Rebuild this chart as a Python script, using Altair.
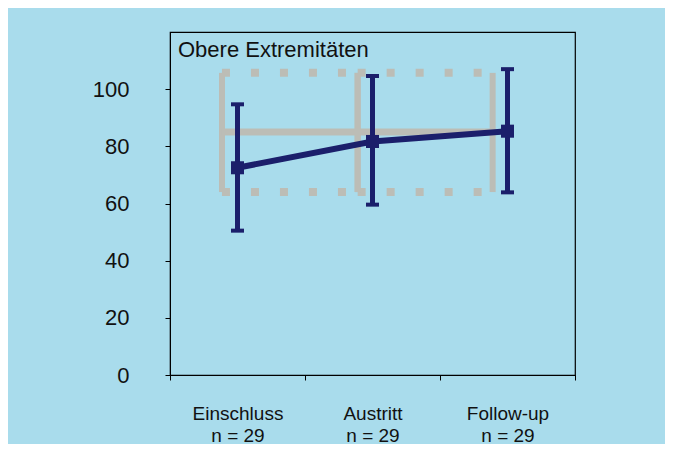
import altair as alt
import pandas as pd

# ---- data ----
categories = ["Einschluss", "Austritt", "Follow-up"]
n_labels = ["n = 29", "n = 29", "n = 29"]
positions = [0.5, 1.5, 2.5]
means = [72.5, 81.7, 85.3]
lower = [50.5, 59.6, 63.9]
upper = [94.7, 104.6, 107.0]

# faint grey outline boxes visible behind the series
box_left = [0.385, 1.39]
box_right = [1.39, 2.39]
box_bottom = [64.0, 64.0]
box_top = [105.7, 105.7]
band_value = 85.0

title_text = "Obere Extremitäten"

navy = "#1b1f6b"
grey = "#bcbdb6"
bg = "#a9dcec"
font = "Liberation Sans"

df = pd.DataFrame({"cat": categories, "pos": positions, "mean": means,
                   "lo": lower, "hi": upper})
boxes = pd.DataFrame({"x1": box_left, "x2": box_right, "yb": box_bottom, "yt": box_top})
band = pd.DataFrame({"x1": [min(box_left)], "x2": [max(box_right)], "y": [band_value]})
side = pd.DataFrame({"x": box_left + box_right, "yb": box_bottom * 2, "yt": box_top * 2})

label_expr = " : ".join(
    f"datum.value == {p} ? ['{c}', '{n}']" for p, c, n in zip(positions, categories, n_labels)
) + " : ''"

x_scale = alt.Scale(domain=[0, 3], nice=False, zero=False)
y_scale = alt.Scale(domain=[0, 120], nice=False)

x_axis = alt.Axis(
    values=[0, 0.5, 1, 1.5, 2, 2.5, 3], labelExpr=label_expr, title=None,
    grid=False, tickSize=5, tickColor="black", domainColor="black",
    tickOpacity={"condition": {"test": "datum.value % 1 != 0", "value": 0}, "value": 1},
    labelFont=font, labelFontSize=19, labelColor="#111111", labelPadding=24,
    labelLineHeight=22, labelAlign="center", labelFlush=False, labelOverlap=False,
)
y_axis = alt.Axis(
    values=[0, 20, 40, 60, 80, 100], title=None, grid=False, tickSize=5,
    tickColor="black", domainColor="black", labelFont=font, labelFontSize=22,
    labelColor="#111111", labelPadding=36,
)

X = alt.X("pos:Q", scale=x_scale, axis=x_axis)

base = alt.Chart(df)

# grey dotted top / bottom edges of the boxes
box_top_rule = alt.Chart(boxes).mark_rule(
    color=grey, strokeWidth=8, strokeDash=[8, 21], strokeCap="butt"
).encode(x=alt.X("x1:Q", scale=x_scale, axis=x_axis), x2="x2:Q",
         y=alt.Y("yt:Q", scale=y_scale, axis=y_axis))
box_bot_rule = alt.Chart(boxes).mark_rule(
    color=grey, strokeWidth=8, strokeDash=[8, 21], strokeCap="butt"
).encode(x=alt.X("x1:Q", scale=x_scale), x2="x2:Q", y=alt.Y("yb:Q", scale=y_scale))
box_side = alt.Chart(side).mark_rule(color=grey, strokeWidth=6).encode(
    x=alt.X("x:Q", scale=x_scale), y=alt.Y("yb:Q", scale=y_scale), y2="yt:Q")
band_rule = alt.Chart(band).mark_rule(color=grey, strokeWidth=7).encode(
    x=alt.X("x1:Q", scale=x_scale), x2="x2:Q", y=alt.Y("y:Q", scale=y_scale))

line = base.mark_line(color=navy, strokeWidth=6).encode(
    x=X, y=alt.Y("mean:Q", scale=y_scale, axis=y_axis))
err = base.mark_rule(color=navy, strokeWidth=5).encode(
    x=alt.X("pos:Q", scale=x_scale), y=alt.Y("lo:Q", scale=y_scale), y2="hi:Q")
cap_hi = base.mark_tick(color=navy, orient="horizontal", size=13, thickness=4, opacity=1).encode(
    x=alt.X("pos:Q", scale=x_scale), y=alt.Y("hi:Q", scale=y_scale))
cap_lo = base.mark_tick(color=navy, orient="horizontal", size=13, thickness=4, opacity=1).encode(
    x=alt.X("pos:Q", scale=x_scale), y=alt.Y("lo:Q", scale=y_scale))
pts = base.mark_square(color=navy, size=170, opacity=1).encode(
    x=alt.X("pos:Q", scale=x_scale), y=alt.Y("mean:Q", scale=y_scale))

title = alt.Chart(pd.DataFrame({"t": [title_text]})).mark_text(
    font=font, fontSize=22, color="#111111", align="left", baseline="alphabetic"
).encode(x=alt.value(8), y=alt.value(25), text="t:N")

chart = alt.layer(
    box_top_rule, box_bot_rule, box_side, band_rule, line, err, cap_hi, cap_lo, pts, title
).properties(
    width=405, height=343,
    autosize=alt.AutoSizeParams(type="none"),
    padding={"left": 162, "top": 24, "right": 90, "bottom": 69},
    background=bg,
).configure_view(stroke="black", strokeWidth=1.2)

chart.save("out.html", embed_options={"renderer": "svg", "actions": False})
